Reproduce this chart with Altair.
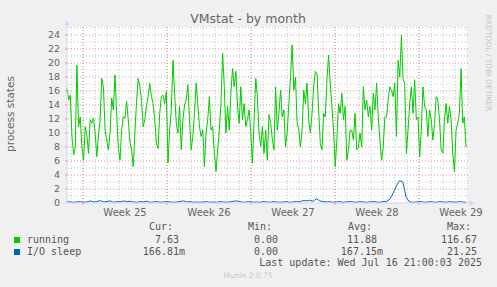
import altair as alt
import pandas as pd

# ---------------- data ----------------
running = [
    16.4, 14.7, 15.4, 9.5, 6.9, 8.0, 19.7, 10.9, 12.3, 8.0, 6.1, 10.9, 9.7, 7.1, 11.9, 11.4,
    12.1, 10.0, 6.6, 9.7, 11.9, 17.8, 16.6, 10.4, 9.0, 7.6, 10.0, 15.0, 13.3, 18.3, 12.8, 7.8,
    6.1, 10.4, 12.3, 12.1, 14.5, 11.9, 8.8, 7.6, 5.2, 10.0, 14.5, 17.8, 16.6, 14.7, 10.9, 11.9,
    14.0, 15.2, 17.1, 15.2, 14.2, 11.9, 8.5, 7.8, 12.8, 15.2, 15.4, 14.2, 15.9, 5.7, 10.4, 13.3,
    20.4, 15.7, 11.4, 10.0, 13.8, 7.6, 11.9, 14.0, 14.7, 16.9, 11.9, 7.6, 9.5, 12.8, 17.1, 14.2,
    10.9, 9.5, 10.4, 5.2, 10.0, 11.9, 15.2, 10.4, 10.9, 7.1, 4.5, 7.6, 10.4, 14.2, 21.4, 16.6,
    10.0, 13.8, 10.4, 15.7, 19.2, 16.6, 18.8, 13.8, 11.4, 16.6, 11.9, 14.2, 10.9, 11.9, 13.3, 10.0,
    5.7, 11.9, 17.8, 15.2, 10.0, 8.0, 10.9, 7.1, 10.4, 6.1, 12.6, 11.4, 9.2, 7.6, 16.6, 10.4,
    12.8, 16.1,
    12.3, 13.3, 8.0, 10.0, 14.2, 18.0, 22.6, 16.1, 18.0, 11.4,
    10.4, 8.0, 10.4, 16.1, 14.2, 17.1, 11.9, 10.0, 12.8, 16.6,
    18.8, 18.5, 13.3, 8.5, 7.6, 12.8, 12.3, 17.6, 21.1, 17.1,
    13.8, 10.4, 5.2, 9.0, 14.2, 12.8, 15.7, 11.9, 13.8, 6.1,
    7.6, 10.4, 10.4, 9.0, 12.8, 7.6, 8.0, 10.0, 8.0, 16.6,
    13.3, 14.7, 12.3, 13.8, 10.4, 15.7, 13.3, 17.1, 12.3, 9.0,
    6.1, 8.0, 12.3, 12.3, 14.7, 16.6, 16.1, 15.2, 17.1, 9.5,
    20.4, 18.0, 24.0, 17.6, 17.1, 7.1, 10.4, 14.2, 16.6, 12.8,
    17.6, 11.9, 12.3, 6.6, 10.4, 16.6, 13.8, 13.3, 9.5, 13.3,
    11.9, 9.0, 11.4, 15.2, 14.7, 11.9, 7.6, 7.1, 11.9, 14.2,
    11.4, 13.8, 11.9, 7.1, 4.5, 10.4, 11.4, 12.8, 19.2, 11.4,
    12.3, 8.0,
]

io_sleep = [
    0.2, 0.15, 0.1, 0.15, 0.2, 0.1, 0.15, 0.3, 0.15, 0.2,
    0.35, 0.15, 0.2, 0.3, 0.1, 0.2, 0.15, 0.3, 0.2, 0.25,
    0.15, 0.1, 0.2, 0.15, 0.25, 0.1, 0.15, 0.2, 0.1, 0.15,
    0.2, 0.15, 0.1, 0.15, 0.2, 0.3, 0.15, 0.2, 0.1, 0.15,
    0.1, 0.15, 0.2, 0.1, 0.15, 0.1, 0.2, 0.15, 0.1, 0.15,
    0.25, 0.3, 0.2, 0.1, 0.15, 0.2, 0.1, 0.15, 0.1, 0.2,
    0.15, 0.1, 0.2, 0.15, 0.1, 0.15, 0.2, 0.1, 0.15, 0.2,
    0.15, 0.35, 0.3, 0.4, 0.25, 0.6, 0.3, 0.2, 0.15, 0.2,
    0.1, 0.15, 0.2, 0.1, 0.15, 0.2, 0.15, 0.1, 0.2, 0.15,
    0.1, 0.15, 0.2, 0.15, 0.1, 0.2, 0.2, 0.5, 1.3, 2.4,
    3.2, 3.0, 0.8, 0.15, 0.1, 0.15, 0.2, 0.15, 0.1, 0.2,
    0.15, 0.1, 0.2, 0.15, 0.1, 0.2, 0.15, 0.1, 0.2, 0.15, 0.1,
]

week_labels = ["Week 25", "Week 26", "Week 27", "Week 28", "Week 29"]
week_start_h = [32, 200, 368, 536, 704]        # hours from graph start
day_lines_h = [8 + 24 * k for k in range(34)]
y_major = list(range(2, 25, 2))
y_minor = list(range(1, 26, 2))
y_labels = list(range(0, 25, 2))

legend_head = ["Cur:", "Min:", "Avg:", "Max:"]
run_stats = ["7.63", "0.00", "11.88", "116.67"]
io_stats = ["166.81m", "0.00", "167.15m", "21.25"]

SPAN = 798
def times(n):
    return [SPAN * i / (n - 1) for i in range(n)]

df_run = pd.DataFrame({"t": times(len(running)), "v": running})
df_io = pd.DataFrame({"t": times(len(io_sleep)), "v": io_sleep})

# ---------------- layout ----------------
L, T, W, H = 67, 27, 401, 176
XS = alt.Scale(domain=[0, 802], nice=False, zero=False)
YS = alt.Scale(domain=[0, 25.14], nice=False, zero=False)
FONT = "#666666"
AXISC = "#CFD6F8"
MINOR = "#C4C4C4"
MAJOR = "#E29494"

def one():
    return alt.Chart(alt.Data(values=[{}]))

def txt(s, px, py, align="left", size=10, color="#555555", font="DejaVu Sans Mono", angle=0):
    kw = dict(text=s, align=align, baseline="middle", fontSize=size, color=color, font=font)
    if angle:
        kw["angle"] = angle
    return one().mark_text(**kw).encode(x=alt.value(px - L), y=alt.value(py - T))

DASH = [1, 2]
vmin = alt.Chart(pd.DataFrame({"t": day_lines_h})).mark_rule(
    color=MINOR, strokeDash=DASH, strokeWidth=1
).encode(x=alt.X("t:Q", scale=XS, axis=None))
hmin = alt.Chart(pd.DataFrame({"y": y_minor})).mark_rule(
    color=MINOR, strokeDash=DASH, strokeWidth=1
).encode(y=alt.Y("y:Q", scale=YS, axis=None))
vmaj = alt.Chart(pd.DataFrame({"t": week_start_h})).mark_rule(
    color=MAJOR, strokeDash=DASH, strokeWidth=1
).encode(x=alt.X("t:Q", scale=XS, axis=None))
hmaj = alt.Chart(pd.DataFrame({"y": y_major})).mark_rule(
    color=MAJOR, strokeDash=DASH, strokeWidth=1
).encode(y=alt.Y("y:Q", scale=YS, axis=None))

# small ticks
xtick = alt.Chart(pd.DataFrame({"t": week_start_h})).mark_rule(color=MAJOR).encode(
    x=alt.X("t:Q", scale=XS, axis=None), y=alt.value(H), y2=alt.value(H + 2))
ytick = alt.Chart(pd.DataFrame({"y": y_major})).mark_rule(color=MAJOR).encode(
    y=alt.Y("y:Q", scale=YS, axis=None), x=alt.value(-2), x2=alt.value(0))

ylab = alt.Chart(pd.DataFrame({"y": y_labels})).mark_text(
    font="DejaVu Sans", fontSize=9.5, color=FONT, align="right", baseline="middle"
).encode(y=alt.Y("y:Q", scale=YS, axis=None), x=alt.value(-7), text="y:Q")

line_io = alt.Chart(df_io).mark_line(color="#0066B3", strokeWidth=1).encode(
    x=alt.X("t:Q", scale=XS, axis=None), y=alt.Y("v:Q", scale=YS, axis=None))
line_run = alt.Chart(df_run).mark_line(color="#00CC00", strokeWidth=1).encode(
    x=alt.X("t:Q", scale=XS, axis=None), y=alt.Y("v:Q", scale=YS, axis=None))

yline = one().mark_rule(color=AXISC).encode(x=alt.value(0), y=alt.value(H), y2=alt.value(-3))
xline = one().mark_rule(color=AXISC).encode(y=alt.value(H), x=alt.value(-3), x2=alt.value(W + 3))
yarrow = one().mark_point(shape="triangle-up", filled=True, color=AXISC, size=28, opacity=1).encode(
    x=alt.value(0), y=alt.value(-4))
xarrow = one().mark_point(shape="triangle-right", filled=True, color=AXISC, size=28, opacity=1).encode(
    x=alt.value(W + 4), y=alt.value(H))

wk = alt.Chart(pd.DataFrame({"t": [s + 84 for s in week_start_h], "lab": week_labels})).mark_text(
    font="DejaVu Sans", fontSize=10, color=FONT, baseline="middle", align="center"
).encode(x=alt.X("t:Q", scale=XS, axis=None), y=alt.value(213 - T), text="lab:N")

texts = [
    txt("VMstat - by month", 248, 19, align="center", size=12.5, color=FONT, font="DejaVu Sans"),
    txt("process states", 11, 114, align="center", size=10.5, color=FONT, font="DejaVu Sans", angle=270),
    txt("RRDTOOL / TOBI OETIKER", 488, 63, align="center", size=7.5, color="#C4C4C4", font="DejaVu Sans", angle=90),
    txt("Munin 2.0.75", 248, 276, align="center", size=7.5, color="#C8C8C8", font="DejaVu Sans"),
    txt("Last update: Wed Jul 16 21:00:03 2025", 482, 263, align="right"),
    txt("running", 27, 240),
    txt("I/O sleep", 27, 252),
]
for s, px in zip(legend_head, [149, 248, 348, 447]):
    texts.append(txt(s, px, 227))
for s, px in zip(run_stats, [179, 278, 377, 477]):
    texts.append(txt(s, px, 240, align="right"))
for s, px in zip(io_stats, [185, 278, 383, 477]):
    texts.append(txt(s, px, 252, align="right"))

sq_run = one().mark_rect(color="#00CC00").encode(
    x=alt.value(14 - L), x2=alt.value(20 - L), y=alt.value(237 - T), y2=alt.value(243 - T))
sq_io = one().mark_rect(color="#0066B3").encode(
    x=alt.value(14 - L), x2=alt.value(20 - L), y=alt.value(249 - T), y2=alt.value(255 - T))

chart = alt.layer(
    vmin, hmin, vmaj, hmaj, line_io, line_run,
    yline, xline, yarrow, xarrow, xtick, ytick, ylab, wk, sq_run, sq_io, *texts
).properties(
    width=W, height=H,
    background="#F0F0F0",
    padding={"left": L, "top": T, "right": 497 - L - W, "bottom": 287 - T - H},
    autosize=alt.AutoSizeParams(type="none"),
).configure_view(fill="white", stroke=None)

chart.save("out.html", embed_options={"renderer": "svg", "actions": False})
